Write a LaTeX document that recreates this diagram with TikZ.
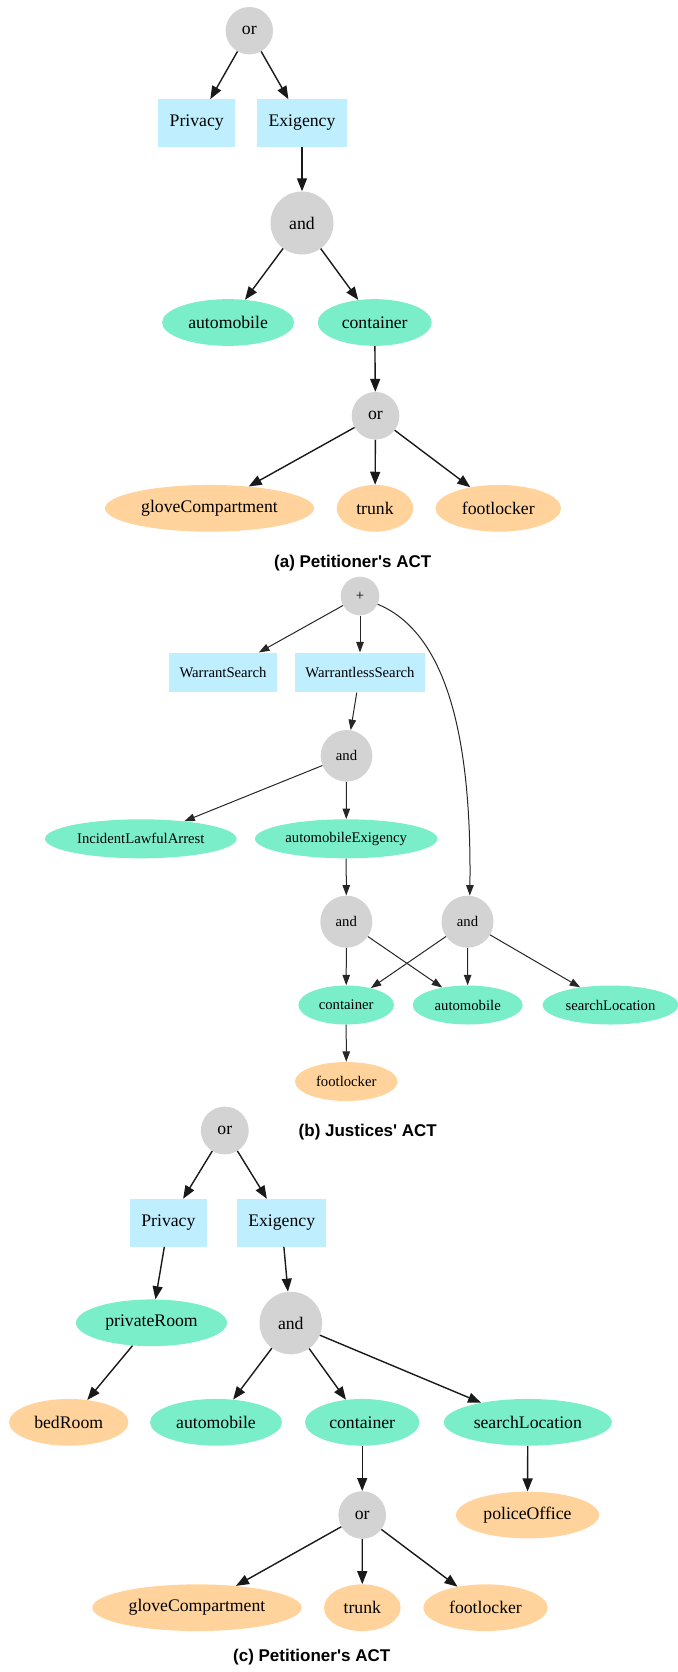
\documentclass[tikz,border=0pt]{standalone}
\usepackage{fontspec}
\setmainfont{Liberation Serif}
\newfontfamily\capfont{Liberation Sans}
\usetikzlibrary{shapes.geometric,arrows.meta}
\definecolor{opgray}{HTML}{D3D3D3}
\definecolor{boxblue}{HTML}{BFEFFF}
\definecolor{leafgreen}{HTML}{7AEEC8}
\definecolor{leaforange}{HTML}{FFD39B}
\tikzset{
  big/.style={font=\fontsize{17.7}{20}\selectfont},
  small/.style={font=\fontsize{14.7}{17}\selectfont},
  opnode/.style={circle,fill=opgray,inner sep=0pt,minimum size=#1},
  boxnode/.style={rectangle,fill=boxblue,inner sep=0pt},
  greennode/.style={ellipse,fill=leafgreen,inner sep=0pt},
  orangenode/.style={ellipse,fill=leaforange,inner sep=0pt},
  bigedge/.style={draw=black!90,line width=1.4pt,-{Triangle[length=13pt,width=10pt]}},
  smalledge/.style={draw=black!85,line width=1pt,-{Triangle[length=10.5pt,width=7.5pt]}},
  caption/.style={font=\capfont\bfseries\fontsize{17}{20}\selectfont}
}
\begin{document}
\begin{tikzpicture}[x=1pt,y=-1pt]
\useasboundingbox (0,0) rectangle (677,1672);

% ---------- (a) ----------
\begin{scope}[big]
\node[opnode=47.4pt] (aOr) at (249.3,30.7) {or};
\node[boxnode,minimum width=76.7pt,minimum height=47.3pt] (aPriv) at (196.7,123) {Privacy};
\node[boxnode,minimum width=89.3pt,minimum height=47.3pt] (aExi) at (302,123) {Exigency};
\node[opnode=63pt] (aAnd) at (302,223) {and};
\node[greennode,minimum width=132pt,minimum height=46.7pt] (aAuto) at (228.1,322.5) {automobile};
\node[greennode,minimum width=114pt,minimum height=46.7pt] (aCont) at (374.7,322.5) {container};
\node[opnode=47.6pt] (aOr2) at (375.5,415.8) {or};
\node[orangenode,minimum width=209pt,minimum height=46.7pt] (aGlove) at (209.5,508.3) {gloveCompartment};
\node[orangenode,minimum width=76.6pt,minimum height=46.7pt] (aTrunk) at (375,508.3) {trunk};
\node[orangenode,minimum width=125.4pt,minimum height=46.7pt] (aFoot) at (498.3,508.3) {footlocker};
\end{scope}
\path[bigedge] (aOr) -- (aPriv);
\path[bigedge] (aOr) -- (aExi);
\path[bigedge] (aExi) -- (aAnd);
\path[bigedge] (aAnd) -- (aAuto);
\path[bigedge] (aAnd) -- (aCont);
\path[bigedge] (aCont) -- (aOr2);
\path[bigedge] (aOr2) -- (aGlove);
\path[bigedge] (aOr2) -- (aTrunk);
\path[bigedge] (aOr2) -- (aFoot);
\node[caption] (capA) at (352.7,563) {(a) Petitioner's ACT};

% ---------- (b) ----------
\begin{scope}[small]
\node[opnode=38.6pt] (bPlus) at (360,596) {+};
\node[boxnode,minimum width=107.3pt,minimum height=39.7pt] (bWS) at (223,672.5) {WarrantSearch};
\node[boxnode,minimum width=130pt,minimum height=39.7pt] (bWLS) at (360,672.5) {WarrantlessSearch};
\node[opnode=51.6pt] (bAnd1) at (346.5,755.8) {and};
\node[greennode,minimum width=191.6pt,minimum height=39pt] (bILA) at (140.8,838.8) {IncidentLawfulArrest};
\node[greennode,minimum width=182.4pt,minimum height=39pt] (bAE) at (346.2,838.8) {automobileExigency};
\node[opnode=52pt] (bAnd2) at (346.3,921.7) {and};
\node[opnode=52pt] (bAnd3) at (467.5,921.7) {and};
\node[greennode,minimum width=95.6pt,minimum height=39pt] (bCont) at (346.2,1005) {container};
\node[greennode,minimum width=110pt,minimum height=39pt] (bAuto) at (467.7,1005) {automobile};
\node[greennode,minimum width=136pt,minimum height=39pt] (bSL) at (610.5,1005) {searchLocation};
\node[orangenode,minimum width=102.6pt,minimum height=39pt] (bFoot) at (346.3,1081.5) {footlocker};
\end{scope}
\path[smalledge] (bPlus) -- (bWS);
\path[smalledge] (bPlus) -- (bWLS);
\path[smalledge] (bPlus.-25) .. controls (440,630) and (472,720) .. (bAnd3.85);
\path[smalledge] (bWLS) -- (bAnd1);
\path[smalledge] (bAnd1) -- (bILA);
\path[smalledge] (bAnd1) -- (bAE);
\path[smalledge] (bAE) -- (bAnd2);
\path[smalledge] (bAnd2) -- (bCont);
\path[smalledge] (bAnd2) -- (bAuto);
\path[smalledge] (bAnd3) -- (bCont);
\path[smalledge] (bAnd3) -- (bAuto);
\path[smalledge] (bAnd3) -- (bSL);
\path[smalledge] (bCont) -- (bFoot);
\node[caption] (capB) at (367.8,1131.7) {(b) Justices' ACT};

% ---------- (c) ----------
\begin{scope}[big]
\node[opnode=47.8pt] (cOr) at (224.8,1130.5) {or};
\node[boxnode,minimum width=76.4pt,minimum height=47.7pt] (cPriv) at (168.4,1222.8) {Privacy};
\node[boxnode,minimum width=89.4pt,minimum height=47.7pt] (cExi) at (281.7,1222.8) {Exigency};
\node[greennode,minimum width=151pt,minimum height=46.7pt] (cPR) at (151.5,1322.8) {privateRoom};
\node[opnode=62.6pt] (cAnd) at (290.8,1323) {and};
\node[orangenode,minimum width=119.4pt,minimum height=46.7pt] (cBed) at (68.7,1422.3) {bedRoom};
\node[greennode,minimum width=132pt,minimum height=46.7pt] (cAuto) at (216,1422.3) {automobile};
\node[greennode,minimum width=114.4pt,minimum height=46.7pt] (cCont) at (362.2,1422.3) {container};
\node[greennode,minimum width=168pt,minimum height=46.7pt] (cSL) at (527.8,1422.3) {searchLocation};
\node[opnode=47.6pt] (cOr2) at (362.2,1515) {or};
\node[orangenode,minimum width=143pt,minimum height=46.7pt] (cPO) at (527.5,1515) {policeOffice};
\node[orangenode,minimum width=209.4pt,minimum height=46.7pt] (cGlove) at (197,1607.7) {gloveCompartment};
\node[orangenode,minimum width=76.6pt,minimum height=46.7pt] (cTrunk) at (362.3,1607.7) {trunk};
\node[orangenode,minimum width=124.4pt,minimum height=46.7pt] (cFoot) at (485.5,1607.7) {footlocker};
\end{scope}
\path[bigedge] (cOr) -- (cPriv);
\path[bigedge] (cOr) -- (cExi);
\path[bigedge] (cPriv) -- (cPR);
\path[bigedge] (cPR) -- (cBed);
\path[bigedge] (cExi) -- (cAnd);
\path[bigedge] (cAnd) -- (cAuto);
\path[bigedge] (cAnd) -- (cCont);
\path[bigedge] (cAnd) -- (cSL);
\path[bigedge] (cCont) -- (cOr2);
\path[bigedge] (cSL) -- (cPO);
\path[bigedge] (cOr2) -- (cGlove);
\path[bigedge] (cOr2) -- (cTrunk);
\path[bigedge] (cOr2) -- (cFoot);
\node[caption] (capC) at (311.7,1657.5) {(c) Petitioner's ACT};
\end{tikzpicture}
\end{document}
